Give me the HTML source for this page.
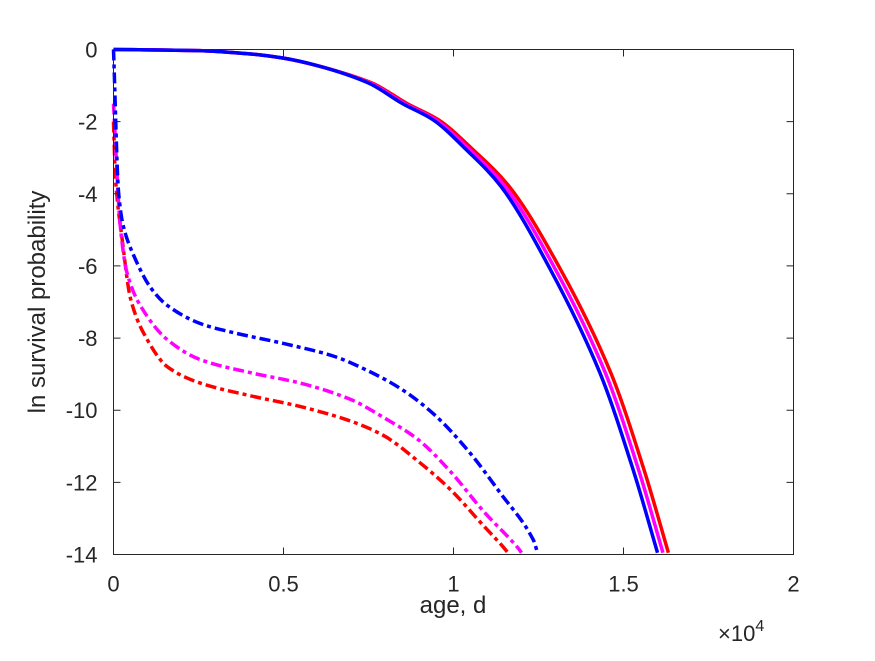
<!DOCTYPE html>
<html><head><meta charset="utf-8"><style>
body{margin:0;background:#fff;}
svg text{font-family:"Liberation Sans",sans-serif;fill:#262626;}
</style></head><body>
<svg id="chart" width="875" height="656" viewBox="0 0 875 656" xmlns="http://www.w3.org/2000/svg">
<rect width="875" height="656" fill="#fff"/>
<g id="series"></g>
<rect x="113.5" y="49.5" width="680" height="505" fill="none" stroke="#262626" stroke-width="1"/>
<g id="axes"></g>
<text x="453" y="613" font-size="24" text-anchor="middle">age, d</text>
<text transform="translate(45,302) rotate(-90)" font-size="24" text-anchor="middle">ln survival probability</text>
<text x="718" y="641" font-size="22">×10<tspan dy="-10" font-size="16">4</tspan></text>
</svg>
<script>
const xTicks=[0,0.5,1,1.5,2];
const xTickLabels=["0","0.5","1","1.5","2"];
const yTicks=[0,-2,-4,-6,-8,-10,-12,-14];
const yTickLabels=["0","-2","-4","-6","-8","-10","-12","-14"];
const solidBlueX=[0,0.1,0.25,0.4,0.5,0.6,0.75,0.85,0.94,1.04,1.14,1.285,1.43,1.53,1.6];
const solidBlueY=[0,-0.01,-0.03,-0.12,-0.24,-0.45,-0.93,-1.5,-1.95,-2.8,-3.8,-6.1,-8.95,-11.7,-13.95];
const solidMagentaX=[0,0.1,0.25,0.4,0.5,0.6,0.755,0.857,0.948,1.05,1.152,1.3,1.446,1.546,1.616];
const solidMagentaY=[0,-0.01,-0.03,-0.12,-0.24,-0.45,-0.93,-1.5,-1.95,-2.8,-3.8,-6.1,-8.95,-11.7,-13.95];
const solidRedX=[0,0.1,0.25,0.4,0.5,0.6,0.76,0.864,0.956,1.06,1.164,1.315,1.462,1.562,1.632];
const solidRedY=[0,-0.01,-0.03,-0.12,-0.24,-0.45,-0.93,-1.5,-1.95,-2.8,-3.8,-6.1,-8.95,-11.7,-13.95];
const dashBlueX=[0,0.015,0.029,0.059,0.109,0.159,0.256,0.353,0.5,0.647,0.747,0.844,0.941,1.041,1.138,1.235,1.247];
const dashBlueY=[0,-3.97,-4.9,-5.7,-6.6,-7.1,-7.6,-7.85,-8.15,-8.5,-8.9,-9.4,-10.1,-11.1,-12.3,-13.6,-13.95];
const dashMagentaX=[0,0.02,0.04,0.079,0.159,0.256,0.403,0.55,0.697,0.794,0.894,0.991,1.088,1.188,1.2];
const dashMagentaY=[-1.5,-4.9,-6.2,-7.1,-8.05,-8.6,-8.96,-9.25,-9.7,-10.2,-10.8,-11.7,-12.8,-13.8,-13.95];
const dashRedX=[0,0.006,0.026,0.05,0.088,0.159,0.256,0.403,0.55,0.697,0.794,0.894,0.991,1.088,1.147,1.16];
const dashRedY=[-2,-3.6,-5.3,-6.9,-7.85,-8.8,-9.25,-9.6,-9.9,-10.3,-10.7,-11.4,-12.2,-13.2,-13.8,-13.95];

const X0=113.5,X1=793.5,Y0=49.5,Y1=554.5;
const sx=v=>X0+(v-0)/(2-0)*(X1-X0);
const sy=v=>Y0+(0-v)/(0+14)*(Y1-Y0);
const NS="http://www.w3.org/2000/svg";
const axes=document.getElementById('axes');
const series=document.getElementById('series');
xTicks.forEach((t,i)=>{
  const x=sx(t);
  const l=document.createElementNS(NS,'path');
  
  
  l.setAttribute('d',`M${x},${Y1}V${Y1-7}M${x},${Y0}V${Y0+7}`);
  l.setAttribute('stroke','#262626');
  axes.appendChild(l);
  const tx=document.createElementNS(NS,'text');
  
  
  tx.setAttribute('x',x);tx.setAttribute('y',Y1+37);
  tx.setAttribute('font-size','22');tx.setAttribute('text-anchor','middle');
  tx.textContent=xTickLabels[i];
  axes.appendChild(tx);
});
yTicks.forEach((t,i)=>{
  const y=sy(t);
  const l=document.createElementNS(NS,'path');
  
  
  l.setAttribute('d',`M${X0},${y}H${X0+7}M${X1},${y}H${X1-7}`);
  l.setAttribute('stroke','#262626');
  axes.appendChild(l);
  const tx=document.createElementNS(NS,'text');
  
  
  tx.setAttribute('x',X0-16);tx.setAttribute('y',y+8);
  tx.setAttribute('font-size','22');tx.setAttribute('text-anchor','end');
  tx.textContent=yTickLabels[i];
  axes.appendChild(tx);
});
// monotone cubic (Fritsch-Carlson) in pixel space
function smoothPath(xs,ys){
  const px=xs.map(sx), py=ys.map(sy), n=px.length;
  const d=[],m=new Array(n);
  for(let i=0;i<n-1;i++) d.push((py[i+1]-py[i])/(px[i+1]-px[i]));
  m[0]=d[0]; m[n-1]=d[n-2];
  for(let i=1;i<n-1;i++){ m[i]=(d[i-1]*d[i]<=0)?0:2/(1/d[i-1]+1/d[i]); }
  let s='M'+px[0].toFixed(1)+','+py[0].toFixed(1);
  for(let i=0;i<n-1;i++){
    const h=px[i+1]-px[i];
    s+='C'+(px[i]+h/3).toFixed(2)+','+(py[i]+m[i]*h/3).toFixed(2)+' '+(px[i+1]-h/3).toFixed(2)+','+(py[i+1]-m[i+1]*h/3).toFixed(2)+' '+px[i+1].toFixed(2)+','+py[i+1].toFixed(2);
  }
  return s;
}
function line(xs,ys,color,dash,name){
  const p=document.createElementNS(NS,'path');
  
  
  p.setAttribute('d',smoothPath(xs,ys));
  p.setAttribute('fill','none');p.setAttribute('stroke',color);
  p.setAttribute('stroke-width','3.5');p.setAttribute('stroke-linejoin','round');
  if(dash)p.setAttribute('stroke-dasharray','11,4,4,4');
  series.appendChild(p);
}
line(dashRedX,dashRedY,'#ff0000',true,'red-dashdot-line');
line(dashMagentaX,dashMagentaY,'#ff00ff',true,'magenta-dashdot-line');
line(dashBlueX,dashBlueY,'#0000ff',true,'blue-dashdot-line');
line(solidRedX,solidRedY,'#ff0000',false,'red-solid-line');
line(solidMagentaX,solidMagentaY,'#ff00ff',false,'magenta-solid-line');
line(solidBlueX,solidBlueY,'#0000ff',false,'blue-solid-line');
</script>
</body></html>
